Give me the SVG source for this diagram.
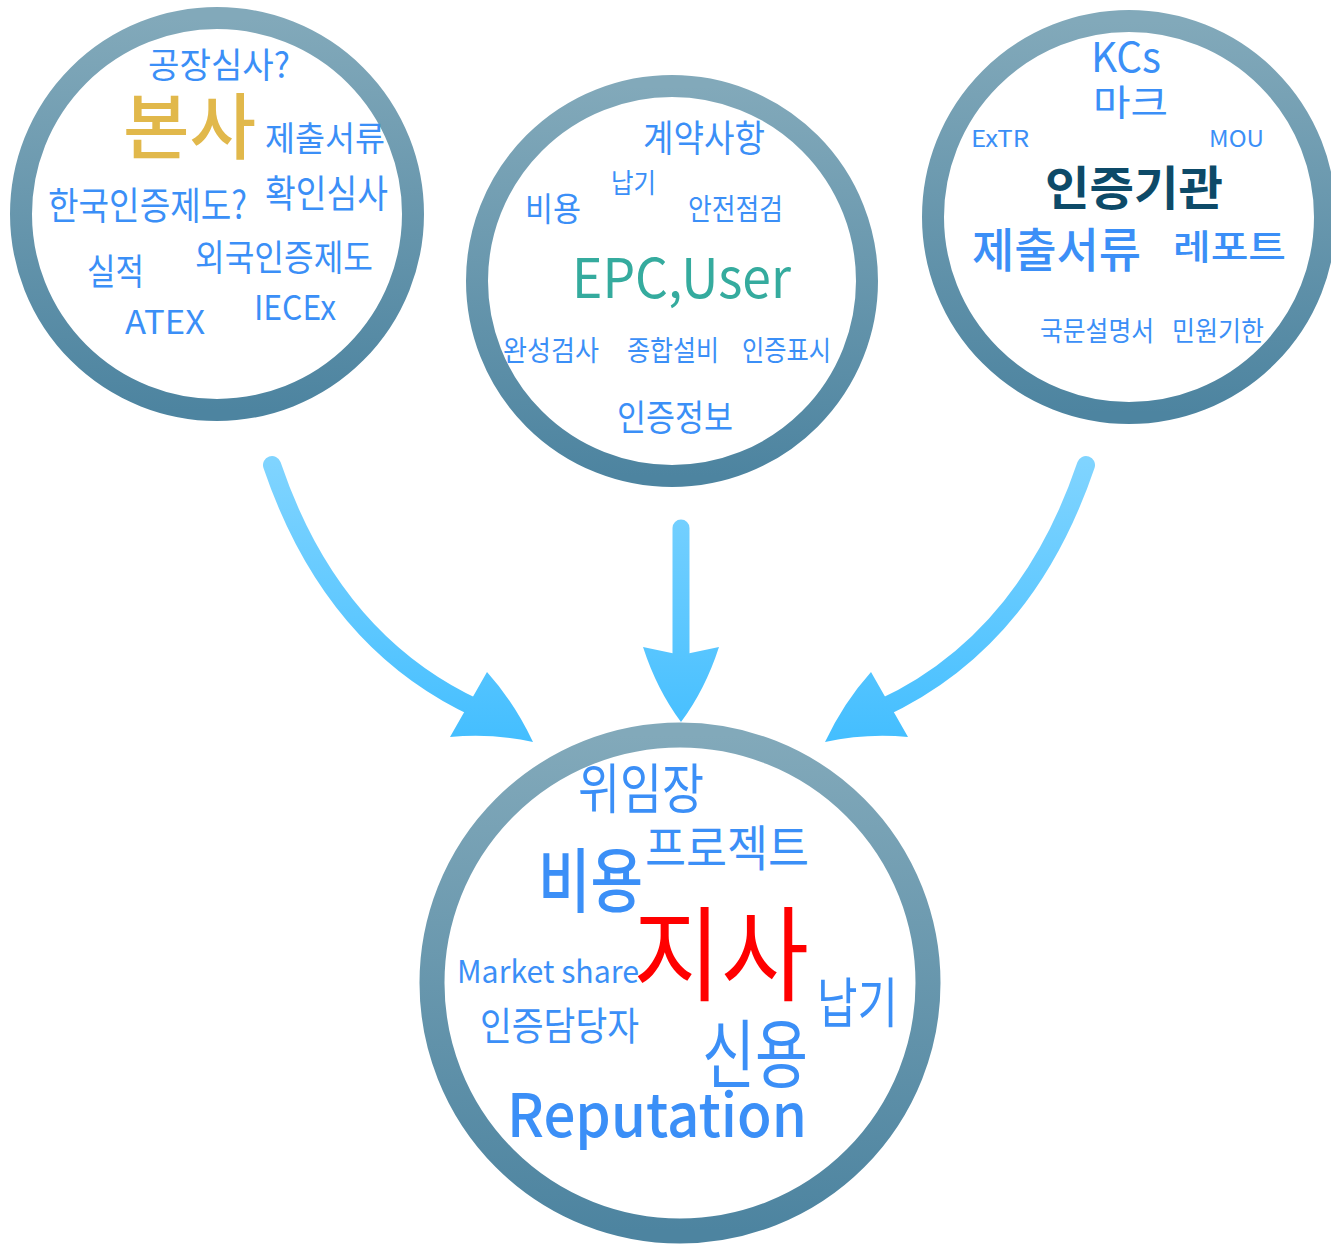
<svg xmlns="http://www.w3.org/2000/svg" width="1331" height="1246" viewBox="0 0 1331 1246">
<defs>
<linearGradient id="ring" x1="0" y1="0" x2="0" y2="1">
<stop offset="0" stop-color="#82a9ba"/>
<stop offset="1" stop-color="#4d84a0"/>
</linearGradient>
<linearGradient id="arr" gradientUnits="userSpaceOnUse" x1="0" y1="460" x2="0" y2="745">
<stop offset="0" stop-color="#80d4ff"/>
<stop offset="1" stop-color="#43beff"/>
</linearGradient>
<style>
.ring{fill:#fff;stroke:url(#ring)}
.t{font-family:"Noto Sans CJK KR","Noto Sans",sans-serif;fill:#3b8ff7;font-weight:400}
.shaft{fill:none;stroke:url(#arr);stroke-width:18;stroke-linecap:round}
.head{fill:url(#arr)}
</style>
</defs>

<g id="connectors">
<g id="arrow-left">
<path class="shaft" d="M272,465 Q332,642 478,709"/>
<path class="head" d="M487,672 Q514,702 533,742 Q492,733 450,737 Z"/>
</g>
<g id="arrow-mid">
<path class="shaft" d="M681,528 L681,658" style="stroke-width:17"/>
<path class="head" d="M643,647 L681,655 L719,647 Q705,690 681,722 Q657,690 643,647 Z"/>
</g>
<g id="arrow-right" transform="translate(1358,0) scale(-1,1)">
<path class="shaft" d="M272,465 Q332,642 478,709"/>
<path class="head" d="M487,672 Q514,702 533,742 Q492,733 450,737 Z"/>
</g>
</g>

<g id="node-hq">
<circle class="ring" cx="217" cy="214" r="196" stroke-width="22"/>
<text class="t" x="148" y="77.5" font-size="35" textLength="142" lengthAdjust="spacingAndGlyphs">공장심사?</text>
<text class="t" x="123" y="153" font-size="72" textLength="133" lengthAdjust="spacingAndGlyphs" style="fill:#e1b84b;font-weight:500">본사</text>
<text class="t" x="265" y="150.5" font-size="34" textLength="120" lengthAdjust="spacingAndGlyphs">제출서류</text>
<text class="t" x="48" y="219" font-size="38" textLength="199" lengthAdjust="spacingAndGlyphs">한국인증제도?</text>
<text class="t" x="265" y="207" font-size="38" textLength="123" lengthAdjust="spacingAndGlyphs">확인심사</text>
<text class="t" x="195" y="270.5" font-size="36" textLength="178" lengthAdjust="spacingAndGlyphs">외국인증제도</text>
<text class="t" x="87" y="285" font-size="36" textLength="57" lengthAdjust="spacingAndGlyphs">실적</text>
<text class="t" x="125" y="334" font-size="33" textLength="80" lengthAdjust="spacingAndGlyphs">ATEX</text>
<text class="t" x="254" y="320" font-size="34" textLength="82" lengthAdjust="spacingAndGlyphs">IECEx</text>
</g>

<g id="node-epc">
<circle class="ring" cx="672" cy="281" r="195" stroke-width="22"/>
<text class="t" x="643" y="152" font-size="37" textLength="122" lengthAdjust="spacingAndGlyphs">계약사항</text>
<text class="t" x="611" y="193" font-size="27" textLength="45" lengthAdjust="spacingAndGlyphs">납기</text>
<text class="t" x="525" y="220.5" font-size="33" textLength="56" lengthAdjust="spacingAndGlyphs">비용</text>
<text class="t" x="688" y="220" font-size="29" textLength="95" lengthAdjust="spacingAndGlyphs">안전점검</text>
<text class="t" x="572" y="298" font-size="55" textLength="219" lengthAdjust="spacingAndGlyphs" style="fill:#35ab9e">EPC,User</text>
<text class="t" x="503" y="361" font-size="28" textLength="96" lengthAdjust="spacingAndGlyphs">완성검사</text>
<text class="t" x="627" y="361" font-size="28" textLength="92" lengthAdjust="spacingAndGlyphs">종합설비</text>
<text class="t" x="742" y="361" font-size="28" textLength="89" lengthAdjust="spacingAndGlyphs">인증표시</text>
<text class="t" x="617" y="430.5" font-size="36" textLength="116" lengthAdjust="spacingAndGlyphs">인증정보</text>
</g>

<g id="node-cert">
<circle class="ring" cx="1129" cy="217" r="196" stroke-width="22"/>
<text class="t" x="1091" y="72" font-size="41" textLength="70" lengthAdjust="spacingAndGlyphs">KCs</text>
<text class="t" x="1093" y="115.5" font-size="36" textLength="75" lengthAdjust="spacingAndGlyphs">마크</text>
<text class="t" x="971" y="147" font-size="23" textLength="58" lengthAdjust="spacingAndGlyphs">ExTR</text>
<text class="t" x="1209" y="147" font-size="23" textLength="55" lengthAdjust="spacingAndGlyphs">MOU</text>
<text class="t" x="1045" y="205" font-size="47" textLength="178" lengthAdjust="spacingAndGlyphs" style="fill:#0d4a68;font-weight:700">인증기관</text>
<text class="t" x="972" y="267" font-size="47" textLength="169" lengthAdjust="spacingAndGlyphs" style="font-weight:500">제출서류</text>
<text class="t" x="1173" y="260" font-size="35" textLength="113" lengthAdjust="spacingAndGlyphs" style="font-weight:500">레포트</text>
<text class="t" x="1040" y="341" font-size="27" textLength="114" lengthAdjust="spacingAndGlyphs">국문설명서</text>
<text class="t" x="1172" y="341" font-size="27" textLength="92" lengthAdjust="spacingAndGlyphs">민원기한</text>
</g>

<g id="node-branch">
<circle class="ring" cx="680" cy="983" r="248" stroke-width="25"/>
<text class="t" x="578" y="809" font-size="54" textLength="126" lengthAdjust="spacingAndGlyphs">위임장</text>
<text class="t" x="645" y="866" font-size="49" textLength="164" lengthAdjust="spacingAndGlyphs">프로젝트</text>
<text class="t" x="538" y="907" font-size="70" textLength="105" lengthAdjust="spacingAndGlyphs" style="font-weight:500">비용</text>
<text class="t" x="457" y="983" font-size="31" textLength="182" lengthAdjust="spacingAndGlyphs">Market share</text>
<text class="t" x="633" y="993" font-size="103" textLength="176" lengthAdjust="spacingAndGlyphs" style="fill:#ff0000">지사</text>
<text class="t" x="480" y="1040" font-size="39" textLength="159" lengthAdjust="spacingAndGlyphs">인증담당자</text>
<text class="t" x="817" y="1023" font-size="54" textLength="81" lengthAdjust="spacingAndGlyphs">납기</text>
<text class="t" x="702" y="1082" font-size="75" textLength="106" lengthAdjust="spacingAndGlyphs">신용</text>
<text class="t" x="507" y="1137" font-size="60" textLength="300" lengthAdjust="spacingAndGlyphs" style="font-weight:500">Reputation</text>
</g>
</svg>
